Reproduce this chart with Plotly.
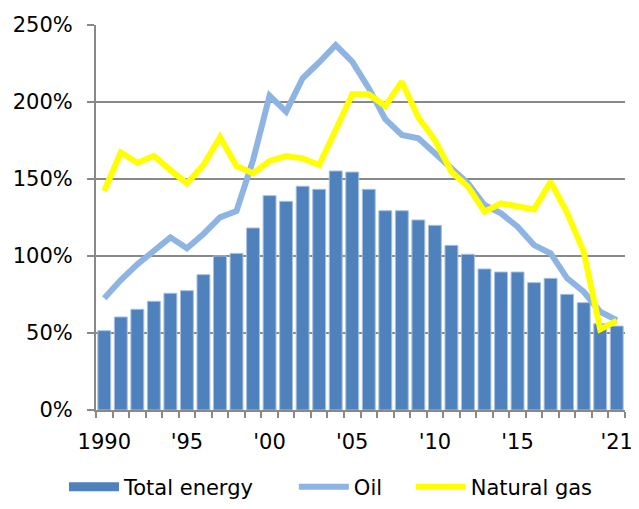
import plotly.graph_objects as go

years = list(range(1990, 2022))

total_energy = [51.5, 60.4, 65.4, 70.6, 75.8, 77.5, 87.9, 100.0, 101.7, 118.2,
                139.2, 135.5, 145.3, 143.3, 155.2, 154.5, 143.3, 129.4, 129.4, 123.4,
                119.9, 106.9, 101.1, 91.6, 89.6, 89.6, 82.7, 85.5, 75.1, 69.7,
                56.0, 54.5]

oil = [72.5, 84.4, 94.6, 102.8, 112.1, 105.0, 114.3, 125.1, 129.2, 162.3,
       204.1, 193.7, 215.4, 225.8, 237.0, 226.2, 209.0, 188.8, 178.6, 176.4,
       166.7, 155.8, 147.2, 133.1, 127.7, 119.0, 107.1, 101.7, 85.5, 76.8,
       63.8, 58.4]

natural_gas = [142.2, 167.3, 160.6, 164.9, 155.8, 147.2, 159.1, 177.1, 158.4, 153.7,
               161.7, 164.9, 163.4, 159.1, 181.8, 205.0, 205.0, 197.4, 213.2, 190.0,
               175.3, 154.8, 145.0, 128.8, 134.2, 132.0, 130.3, 148.2, 128.1, 102.8,
               52.4, 58.0]

tick_years = [1990, 1995, 2000, 2005, 2010, 2015, 2021]
tick_labels = ["1990", "'95", "'00", "'05", "'10", "'15", "'21"]

BAR = "#4F81BD"
OIL = "#8DB4E2"
GAS = "#FFFF00"
GREY = "#898989"

fig = go.Figure()
fig.add_trace(go.Bar(x=years, y=total_energy, name="Total energy", showlegend=False,
                     marker=dict(color=BAR, line=dict(color="#A7C0E0", width=1)),
                     width=0.78))
# legend-only entry so the swatch is a wide flat bar like the original
fig.add_trace(go.Scatter(x=[None], y=[None], name="Total energy", mode="lines",
                         line=dict(color=BAR, width=9), legend="legend"))
fig.add_trace(go.Scatter(x=years, y=oil, name="Oil", mode="lines",
                         line=dict(color=OIL, width=6), legend="legend2"))
fig.add_trace(go.Scatter(x=years, y=natural_gas, name="Natural gas", mode="lines",
                         line=dict(color=GAS, width=6), legend="legend3"))

leg = dict(orientation="h", y=-0.2, yanchor="middle", xanchor="left",
           font=dict(size=21), itemwidth=50, bgcolor="rgba(0,0,0,0)")

fig.update_layout(
    width=631, height=493,
    margin=dict(l=88, r=14, t=17, b=91, autoexpand=False),
    plot_bgcolor="white", paper_bgcolor="white",
    font=dict(family="DejaVu Sans", size=21, color="black"),
    showlegend=True,
    legend=dict(leg, x=-0.0605),
    legend2=dict(leg, x=0.374),
    legend3=dict(leg, x=0.595),
)
fig.update_xaxes(
    range=[1989.5, 2021.5], tickangle=0,
    tickvals=tick_years, ticktext=tick_labels, ticks="",
    ticklabelstandoff=12, ticklabeloverflow="allow",
    showline=True, linecolor=GREY, linewidth=2,
    showgrid=False,
    minor=dict(ticks="outside", tick0=1989.5, dtick=1, ticklen=6,
               tickcolor=GREY, tickwidth=2, showgrid=False),
)
fig.update_yaxes(
    range=[0, 250], tickvals=[0, 50, 100, 150, 200, 250],
    ticktext=["0%", "50%", "100%", "150%", "200%", "250%"],
    ticks="outside", ticklen=7, tickcolor=GREY, tickwidth=2,
    ticklabelstandoff=10,
    showline=True, linecolor=GREY, linewidth=2,
    showgrid=True, gridcolor=GREY, gridwidth=2,
    zeroline=False,
)

fig.write_html("out.html")
